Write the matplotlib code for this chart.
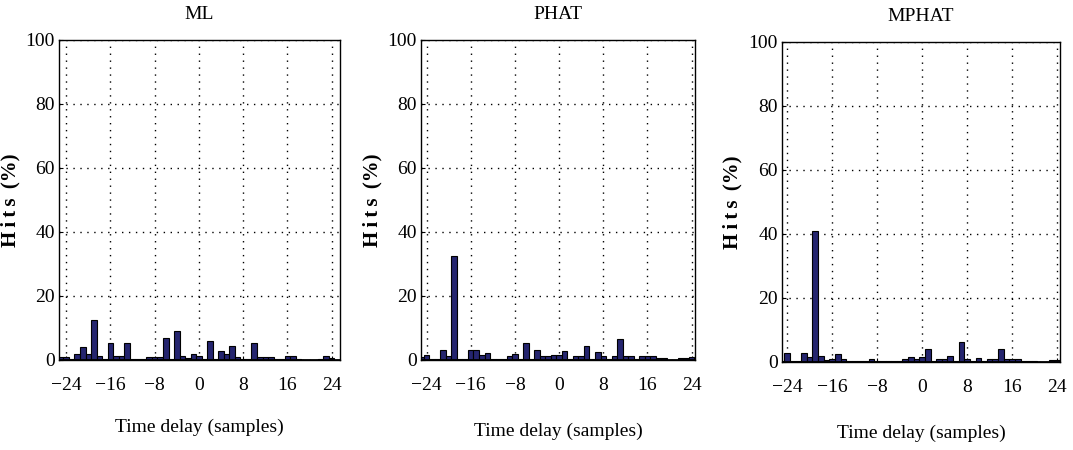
import matplotlib
matplotlib.use("Agg")
import matplotlib.pyplot as plt
import numpy as np

plt.rcParams['font.family'] = ['Liberation Serif', 'DejaVu Serif']

# time delay in samples, -25 .. 24
delays = list(range(-25, 25))

# hits (%) per delay
ml_hits = [0.8, 0.8, 0.3, 1.8, 4.2, 1.8, 12.5, 1.2, 0.3, 5.2,
           1.2, 1.2, 5.2, 0.3, 0.3, 0.3, 1.0, 1.0, 1.0, 6.8,
           0.3, 9.0, 1.2, 0.5, 2.0, 1.2, 0.3, 6.0, 0.3, 2.9,
           2.0, 4.4, 1.0, 0.3, 0.3, 5.2, 1.0, 1.0, 1.0, 0.3,
           0.3, 1.2, 1.2, 0.3, 0.0, 0.0, 0.0, 0.3, 1.2, 0.5]
phat_hits = [0.8, 1.5, 0.3, 0.3, 3.1, 1.2, 32.5, 0.3, 0.3, 3.1,
             3.1, 1.5, 2.3, 0.3, 0.3, 0.3, 1.2, 2.0, 0.3, 5.2,
             0.3, 3.0, 1.2, 1.2, 1.6, 1.6, 2.8, 0.3, 1.2, 1.2,
             4.4, 0.3, 2.4, 1.2, 0.3, 1.2, 6.6, 1.2, 1.2, 0.3,
             1.2, 1.2, 1.2, 0.5, 0.5, 0.0, 0.0, 0.6, 0.6, 1.0]
mphat_hits = [0.3, 2.7, 0.3, 0.3, 2.7, 1.5, 41.0, 1.8, 0.5, 1.0,
              2.6, 1.0, 0.3, 0.3, 0.3, 0.3, 1.0, 0.3, 0.3, 0.3,
              0.3, 0.3, 1.0, 1.5, 1.0, 1.7, 4.0, 0.3, 1.0, 1.0,
              1.8, 0.3, 6.4, 1.0, 0.3, 1.3, 0.3, 1.0, 1.0, 4.0,
              1.0, 1.0, 1.0, 0.3, 0.3, 0.3, 0.0, 0.0, 0.6, 0.6]

titles = ['ML', 'PHAT', 'MPHAT']
xticks = [-24, -16, -8, 0, 8, 16, 24]
yticks = [0, 20, 40, 60, 80, 100]

fig = plt.figure(figsize=(10.73, 4.5), dpi=100)

# axes boxes in pixels: left, right, top, bottom
boxes = [(59, 340, 40, 360), (421, 695, 40, 360), (782, 1060, 42, 362)]
xlims = [(-25.3, 25.5), (-25.0, 24.6), (-24.9, 24.5)]
ylabel_x = [20, 382, 742]
xlabel_off = [0, 3, 3]

for i, hits in enumerate([ml_hits, phat_hits, mphat_hits]):
    l, r, t, b = boxes[i]
    ax = fig.add_axes([l / 1073, 1 - b / 450, (r - l) / 1073, (b - t) / 450])
    ax.bar(delays, hits, width=1.0, color='#25256f', edgecolor='black', linewidth=0.8)
    ax.axhline(0, color='black', linewidth=2.0)
    ax.set_xlim(*xlims[i])
    ax.set_ylim(0, 100)
    ax.set_xticks(xticks)
    ax.set_yticks(yticks)
    ax.grid(True, color='black', linestyle=(0, (1, 4)), linewidth=1.0)
    ax.set_axisbelow(True)
    ax.tick_params(direction='in', length=3, labelsize=14)
    ax.tick_params(axis='x', pad=12)
    ax.tick_params(axis='y', pad=3)
    for s in ax.spines.values():
        s.set_linewidth(1.0)
    ax.set_title(titles[i], fontsize=14, pad=15)
    ax.set_ylabel('H\u2009i\u2009t\u2009s\u2009 (%)', fontsize=15, fontweight='bold')
    ax.yaxis.set_label_coords((ylabel_x[i] - l) / (r - l), 0.5)
    ax.set_xlabel('Time delay (samples)', fontsize=14, labelpad=18 + xlabel_off[i])

fig.savefig('out.png', dpi=100)
